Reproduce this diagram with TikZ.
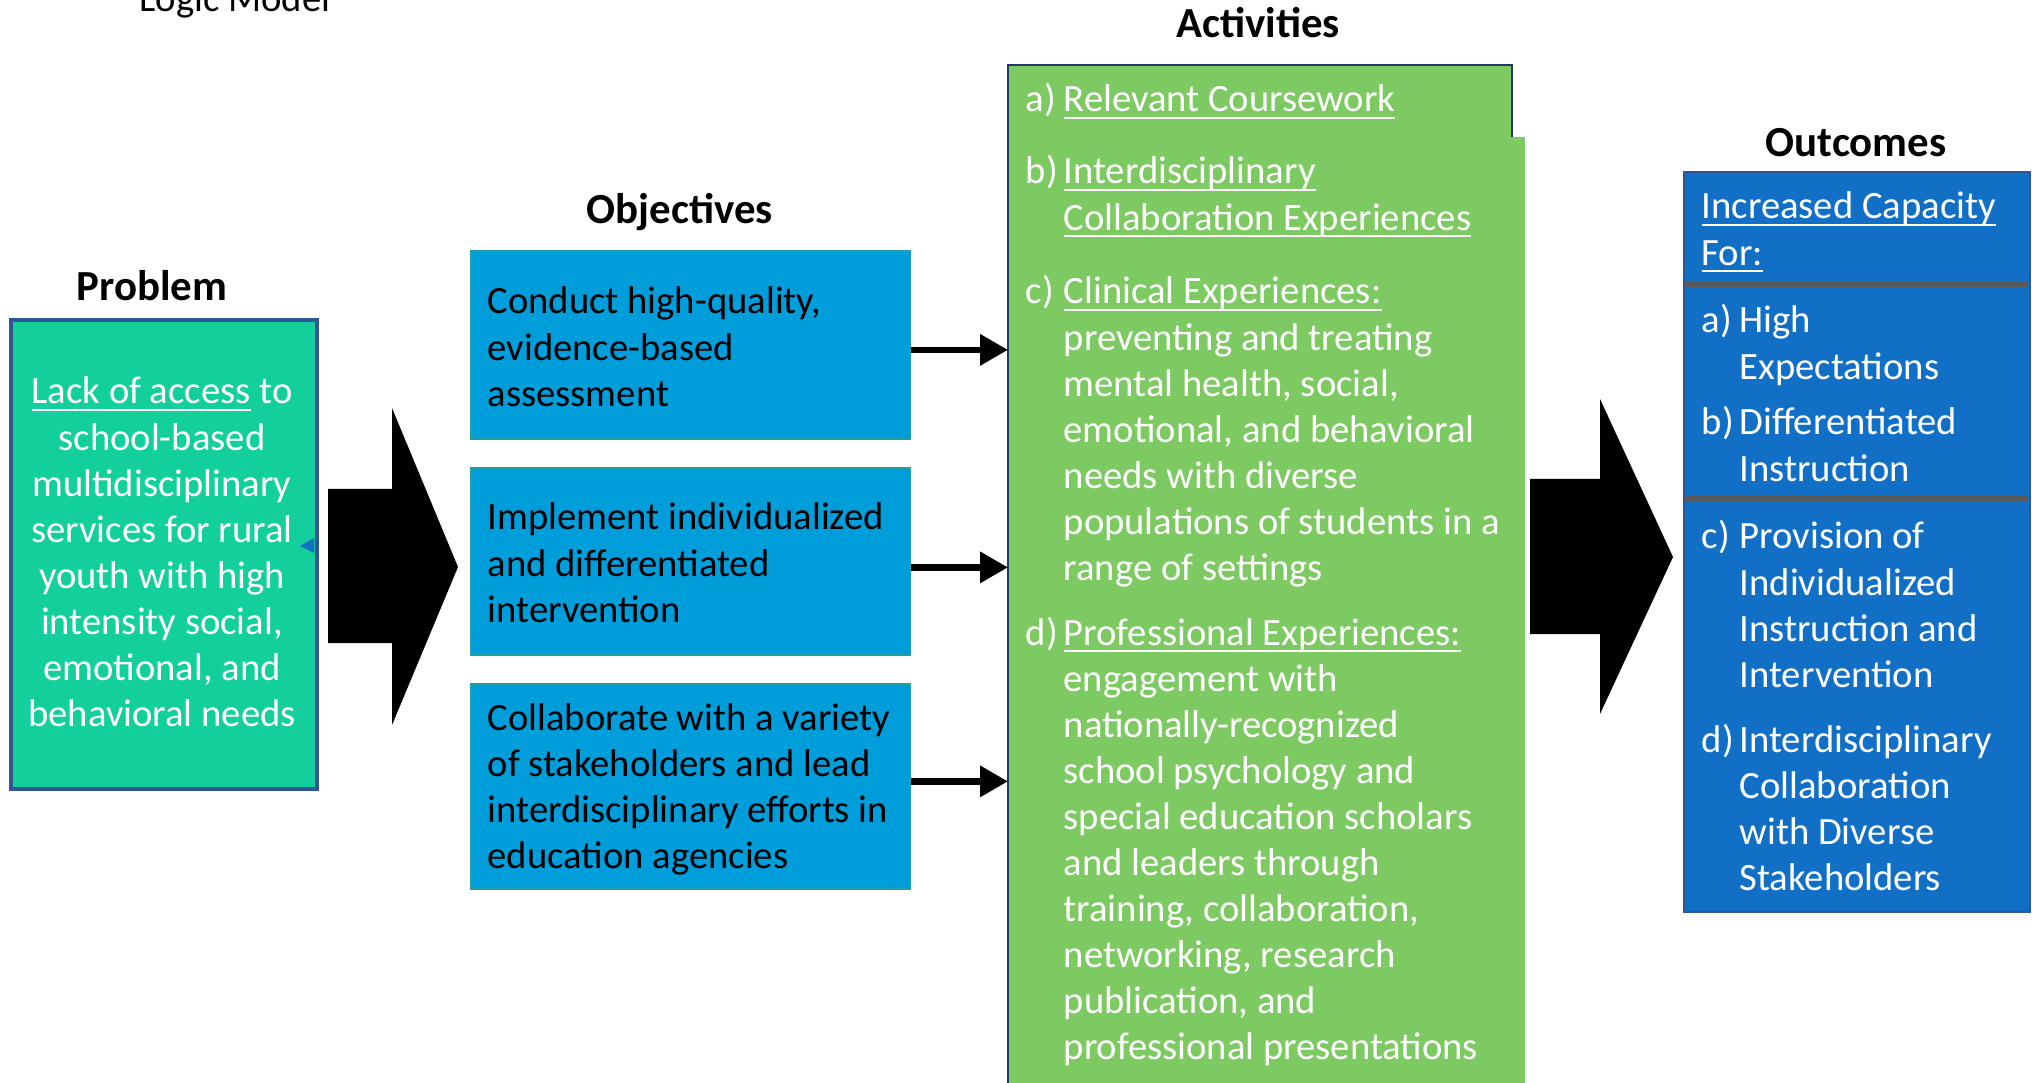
\documentclass[tikz,border=0pt]{standalone}
\usepackage{fontspec}
\setmainfont{Carlito}
\usetikzlibrary{arrows.meta}
\definecolor{probgreen}{HTML}{12CF9B}
\definecolor{objblue}{HTML}{009DDB}
\definecolor{objedge}{HTML}{1FA0A6}
\definecolor{actgreen}{HTML}{7DCA62}
\definecolor{outblue}{HTML}{1170C6}
\definecolor{edgeblue}{HTML}{2F5597}
\definecolor{edgenavy}{HTML}{1F3864}
\definecolor{sepgray}{HTML}{595959}
\newcommand{\lbl}[1]{\makebox[0.38cm][l]{#1}}
\newcommand{\undl}[1]{\setbox0\hbox{#1}\rlap{\rule[-2pt]{\wd0}{0.7pt}}\box0\relax}
\newcommand{\txtlines}[1]{\begin{tabular}[t]{@{}l@{}}#1\end{tabular}}
\begin{document}
\begin{tikzpicture}[
  head/.style={font=\fontsize{12.2}{14.6}\selectfont\bfseries, inner sep=0pt, anchor=base},
  txt/.style={font=\fontsize{11}{13.1}\selectfont, inner sep=0pt, anchor=base west, text=white},
  box/.style={rectangle, inner sep=0pt, anchor=north west, line width=0.5pt},
  objbox/.style={box, fill=objblue, draw=objedge, minimum width=4.39cm},
  conn/.style={line width=1.9pt, -{Triangle[length=0.28cm,width=0.3cm]}},
  sep/.style={draw=sepgray, line width=0.06cm}
]
\useasboundingbox (0,0) rectangle (20.32,-10.83);

% headings
\node[font=\fontsize{11}{13}\selectfont, inner sep=0pt, anchor=base] (title) at (2.35,-0.12) {Logic Model};
\node[head] (hprob) at (1.52,-3.01) {Problem};
\node[head] (hobj) at (6.80,-2.24) {Objectives};
\node[head] (hact) at (12.58,-0.38) {Activities};
\node[head] (hout) at (18.56,-1.57) {Outcomes};

% boxes
\node[box, fill=probgreen, draw=edgeblue, line width=1pt, minimum width=3.06cm, minimum height=4.69cm] (prob) at (0.09,-3.18) {};
\node[objbox, minimum height=1.88cm] (obj1) at (4.70,-2.50) {};
\node[objbox, minimum height=1.87cm] (obj2) at (4.70,-4.67) {};
\node[objbox, minimum height=2.05cm] (obj3) at (4.70,-6.83) {};
\node[box, fill=actgreen, minimum width=5.16cm, minimum height=10.4cm] (act) at (10.08,-0.65) {};
\fill[white] (15.12,-0.63) rectangle (15.26,-1.37);
\draw[edgenavy, line width=0.6pt] (act.south west) -- (act.north west) -- (15.12,-0.65) -- (15.12,-1.37);
\node[box, fill=outblue, draw=edgeblue, minimum width=3.46cm, minimum height=7.40cm] (out) at (16.83,-1.71) {};
\draw[sep] (16.85,-2.84) -- (20.27,-2.84);
\draw[sep] (16.85,-4.99) -- (20.27,-4.99);
\fill[outblue] (3.00,-5.46) -- (3.14,-5.38) -- (3.14,-5.53) -- cycle;

% block arrows
\fill (3.28,-4.89) -- (3.92,-4.89) -- (3.92,-4.08) -- (4.58,-5.67) -- (3.92,-7.25) -- (3.92,-6.43) -- (3.28,-6.43) -- cycle;
\fill (15.30,-4.79) -- (16.00,-4.79) -- (16.00,-3.99) -- (16.73,-5.57) -- (16.00,-7.14) -- (16.00,-6.34) -- (15.30,-6.34) -- cycle;

% objectives to activities
\foreach \o/\dy in {obj1/-0.05,obj2/-0.06,obj3/0.05}
  \draw[conn] ([yshift=\dy cm]\o.east) -- ([yshift=\dy cm]\o.east -| act.west);

% texts
\node[txt, anchor=base] (probtxt) at (1.62,-4.04) {\begin{tabular}[t]{@{}c@{}}\undl{Lack of access} to\\ school-based\\ multidisciplinary\\ services for rural\\ youth with high\\ intensity social,\\ emotional, and\\ behavioral needs\end{tabular}};

\node[txt, text=black] (obj1txt) at (4.87,-3.14) {\txtlines{Conduct high-quality,\\ evidence-based\\ assessment}};
\node[txt, text=black] (obj2txt) at (4.87,-5.30) {\txtlines{Implement individualized\\ and differentiated\\ intervention}};
\node[txt, text=black] (obj3txt) at (4.87,-7.30) {\txtlines{Collaborate with a variety\\ of stakeholders and lead\\ interdisciplinary efforts in\\ education agencies}};

\node[txt] (acta) at (10.25,-1.12) {\txtlines{\lbl{a)}\undl{Relevant Coursework}}};
\node[txt] (actb) at (10.25,-1.84) {\txtlines{\lbl{b)}\undl{Interdisciplinary}\\ \lbl{}\undl{Collaboration Experiences}}};
\node[txt] (actc) at (10.25,-3.04) {\txtlines{\lbl{c)}\undl{Clinical Experiences:}\\ \lbl{}preventing and treating\\ \lbl{}mental health, social,\\ \lbl{}emotional, and behavioral\\ \lbl{}needs with diverse\\ \lbl{}populations of students in a\\ \lbl{}range of settings}};
\node[txt] (actd) at (10.25,-6.45) {\txtlines{\lbl{d)}\undl{Professional Experiences:}\\ \lbl{}engagement with\\ \lbl{}nationally-recognized\\ \lbl{}school psychology and\\ \lbl{}special education scholars\\ \lbl{}and leaders through\\ \lbl{}training, collaboration,\\ \lbl{}networking, research\\ \lbl{}publication, and\\ \lbl{}professional presentations}};

\node[txt] (outhead) at (17.01,-2.19) {\txtlines{\undl{Increased Capacity}\\ \undl{For:}}};
\node[txt] (outa) at (17.01,-3.33) {\txtlines{\lbl{a)}High\\ \lbl{}Expectations}};
\node[txt] (outb) at (17.01,-4.35) {\txtlines{\lbl{b)}Differentiated\\ \lbl{}Instruction}};
\node[txt] (outc) at (17.01,-5.49) {\txtlines{\lbl{c)}Provision of\\ \lbl{}Individualized\\ \lbl{}Instruction and\\ \lbl{}Intervention}};
\node[txt] (outd) at (17.01,-7.52) {\txtlines{\lbl{d)}Interdisciplinary\\ \lbl{}Collaboration\\ \lbl{}with Diverse\\ \lbl{}Stakeholders}};
\end{tikzpicture}
\end{document}
